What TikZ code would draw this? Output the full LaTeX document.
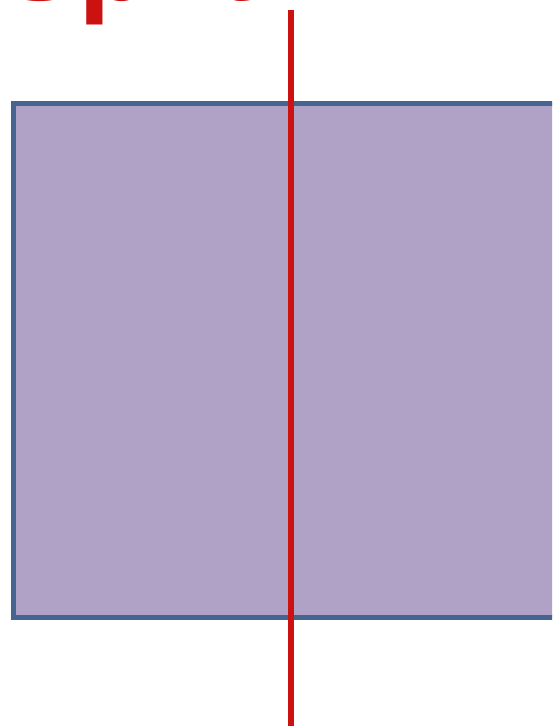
\documentclass[tikz,border=0pt]{standalone}
\usepackage{fontspec}
\setmainfont{Liberation Sans}
\definecolor{boxfill}{HTML}{B0A1C7}
\definecolor{boxline}{HTML}{456590}
\definecolor{cutred}{HTML}{CC1111}
\begin{document}
\begin{tikzpicture}[x=1pt,y=-1pt,
  boxstyle/.style={draw=boxline,line width=5pt,fill=boxfill},
  cutline/.style={draw=cutred,line width=6pt},
  titletext/.style={text=cutred,font=\bfseries\fontsize{118}{118}\selectfont,inner sep=0pt,anchor=base west}]
\useasboundingbox (0,0) rectangle (552,726);
\clip (0,0) rectangle (552,726);
\node[titletext] (title) at (0,0.4) {Split};
\draw[boxstyle] (13,103) rectangle (570,617);
\coordinate (ctop) at (290.5,10);
\coordinate (cbot) at (290.5,730);
\draw[cutline] (ctop) -- (cbot);
\end{tikzpicture}
\end{document}
